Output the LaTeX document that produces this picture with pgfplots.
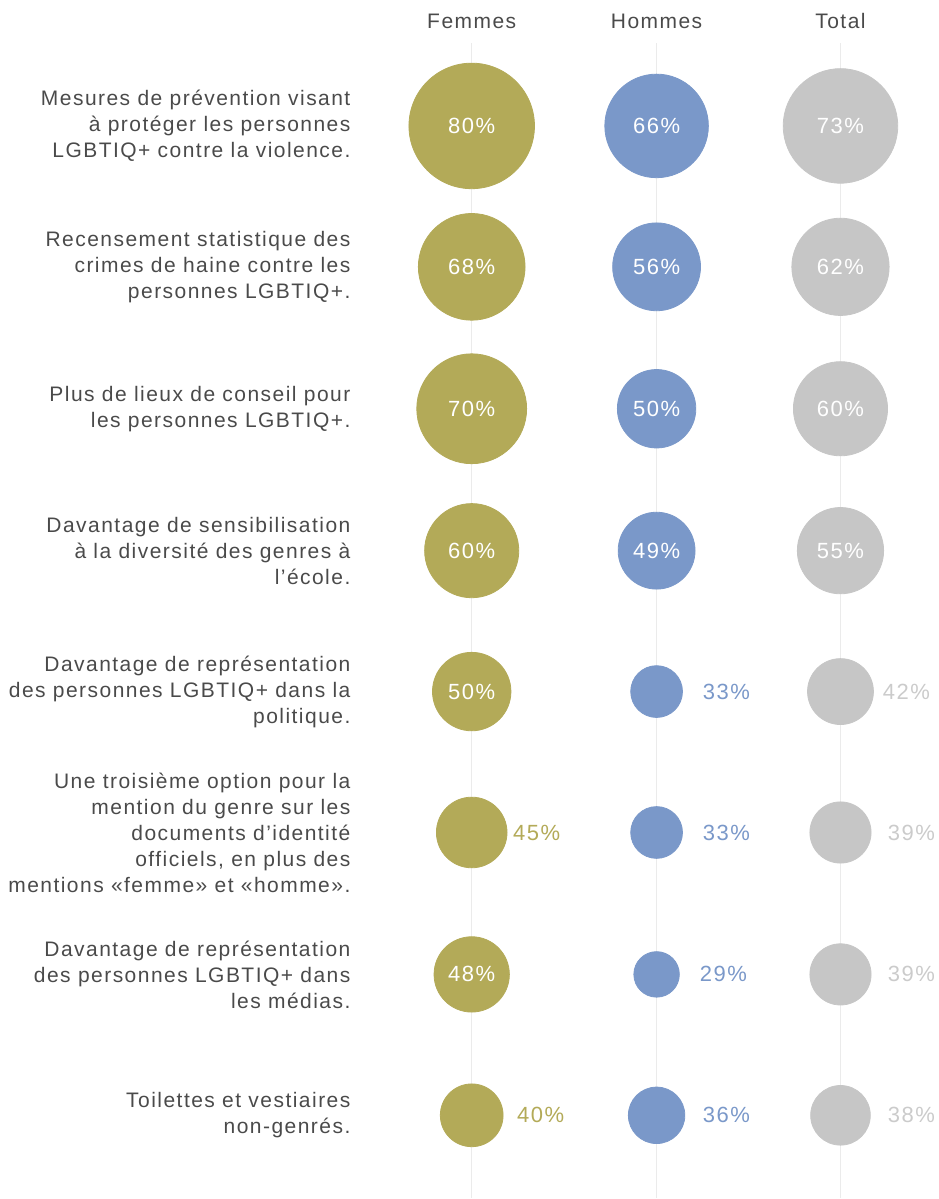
\documentclass[border=0pt]{standalone}
\usepackage{fontspec}
\setmainfont{Liberation Sans}[LetterSpace=7]
\usepackage{pgfplots}
\usepackage{pgfplotstable}
\pgfplotsset{compat=1.18}
\definecolor{femcol}{HTML}{B3AA58}
\definecolor{homcol}{HTML}{7A98C9}
\definecolor{totcol}{HTML}{C6C6C6}
\definecolor{totlab}{HTML}{CBCBCB}
\definecolor{gridcol}{HTML}{EBEBEB}
\definecolor{txtcol}{HTML}{4A4A4A}
% y = row centre (px), v = value, in = label inside bubble, lx = label left edge (px)
\pgfplotstableread{
y v in lx
126 80 1 0
267 68 1 0
409 70 1 0
551 60 1 0
692 50 1 0
833 45 0 513
975 48 1 0
1116 40 0 517
}\fem
\pgfplotstableread{
y v in lx
126 66 1 0
267 56 1 0
409 50 1 0
551 49 1 0
692 33 0 703
833 33 0 703
975 29 0 700
1116 36 0 703
}\hom
\pgfplotstableread{
y v in lx
126 73 1 0
267 62 1 0
409 60 1 0
551 55 1 0
692 42 0 883
833 39 0 888
975 39 0 888
1116 38 0 888
}\tot
\newcommand{\pctfont}{\fontsize{11}{13}\selectfont}
\newcommand{\lblfont}{\fontsize{10.5}{13}\selectfont}
\begin{document}
\begin{tikzpicture}
\begin{axis}[
  scale only axis, width=469.5pt, height=599.5pt,
  xmin=0, xmax=939, ymin=0, ymax=1199, y dir=reverse,
  hide axis, clip=false,
  /pgf/number format/assume math mode=true,
  bubble/.style={scatter, only marks, mark=*,
    point meta=\thisrow{v},
    scatter/use mapped color={draw=#1, fill=#1},
    visualization depends on={0.3925*\thisrow{v} \as \msize},
    scatter/@pre marker code/.append style={/tikz/mark size=\msize}},
  inlab/.style={draw=none, mark=none, point meta=\thisrow{v},
    restrict expr to domain={\thisrow{in}}{1:1},
    nodes near coords={\pgfmathprintnumber[assume math mode=true]{\pgfplotspointmeta}\%},
    every node near coord/.style={anchor=center, text=white, font=\pctfont, inner sep=0pt}},
  outlab/.style={draw=none, mark=none, point meta=\thisrow{v},
    restrict expr to domain={\thisrow{in}}{0:0},
    nodes near coords={\pgfmathprintnumber[assume math mode=true]{\pgfplotspointmeta}\%},
    every node near coord/.style={anchor=west, text=#1, font=\pctfont, inner sep=0pt}},
]
\draw[draw=none] (rel axis cs:0,0) rectangle (rel axis cs:1,1);
% column guide lines
\addplot[gridcol, line width=0.75pt] coordinates {(472,43) (472,1199)};
\addplot[gridcol, line width=0.75pt] coordinates {(657,43) (657,1199)};
\addplot[gridcol, line width=0.75pt] coordinates {(841,43) (841,1199)};
% bubbles
\addplot[bubble=femcol] table[x expr=472, y=y] {\fem};
\addplot[bubble=homcol] table[x expr=657, y=y] {\hom};
\addplot[bubble=totcol] table[x expr=841, y=y] {\tot};
% labels
\addplot[inlab] table[x expr=472, y=y] {\fem};
\addplot[inlab] table[x expr=657, y=y] {\hom};
\addplot[inlab] table[x expr=841, y=y] {\tot};
\addplot[outlab=femcol] table[x=lx, y=y] {\fem};
\addplot[outlab=homcol] table[x=lx, y=y] {\hom};
\addplot[outlab=totlab] table[x=lx, y=y] {\tot};
% headers
\node[anchor=base, text=txtcol, font=\lblfont, inner sep=0pt] at (axis cs:472,29) {Femmes};
\node[anchor=base, text=txtcol, font=\lblfont, inner sep=0pt] at (axis cs:657,29) {Hommes};
\node[anchor=base, text=txtcol, font=\lblfont, inner sep=0pt] at (axis cs:841,29) {Total};
% row labels
\tikzset{rowlab/.style={anchor=east, align=right, text=txtcol, font=\lblfont, inner sep=0pt}}
\node[rowlab] at (axis cs:351,126) {Mesures de prévention visant\\à protéger les personnes\\LGBTIQ+ contre la violence.};
\node[rowlab] at (axis cs:351,267) {Recensement statistique des\\crimes de haine contre les\\personnes LGBTIQ+.};
\node[rowlab] at (axis cs:351,409) {Plus de lieux de conseil pour\\les personnes LGBTIQ+.};
\node[rowlab] at (axis cs:351,551) {Davantage de sensibilisation\\à la diversité des genres à\\l’école.};
\node[rowlab] at (axis cs:351,692) {Davantage de représentation\\des personnes LGBTIQ+ dans la\\politique.};
\node[rowlab] at (axis cs:351,833) {Une troisième option pour la\\mention du genre sur les\\documents d’identité\\officiels, en plus des\\mentions «femme» et «homme».};
\node[rowlab] at (axis cs:351,975) {Davantage de représentation\\des personnes LGBTIQ+ dans\\les médias.};
\node[rowlab] at (axis cs:351,1116) {Toilettes et vestiaires\\non-genrés.};
\end{axis}
\end{tikzpicture}
\end{document}
